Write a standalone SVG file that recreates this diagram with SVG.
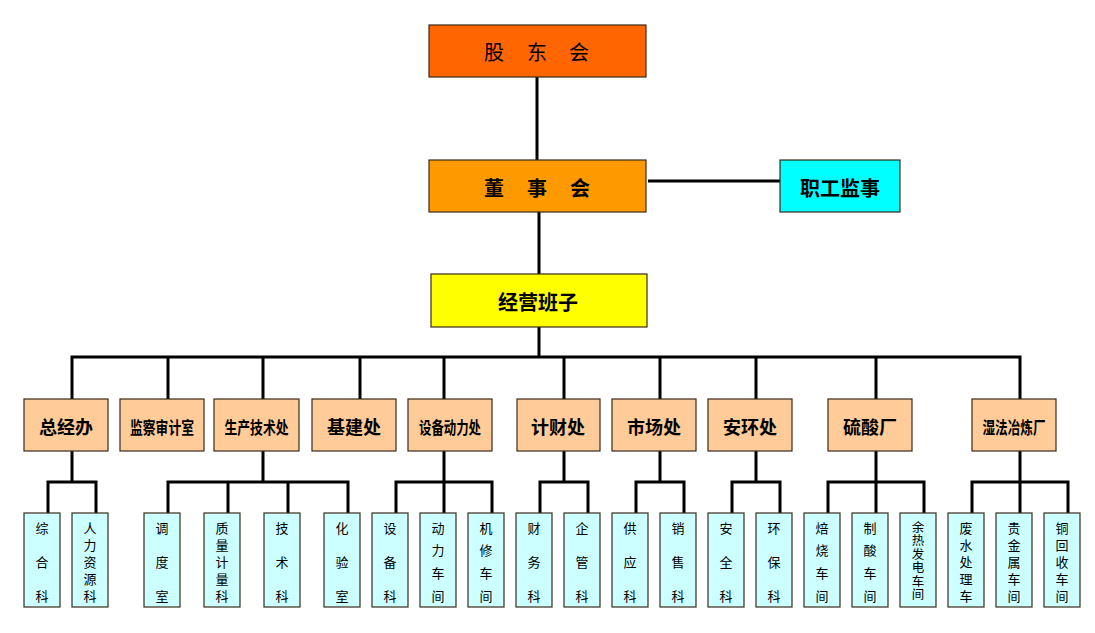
<svg xmlns="http://www.w3.org/2000/svg" width="1095" height="633" viewBox="0 0 1095 633">
<style>
.c{fill:none;stroke:#000;stroke-width:3;stroke-linejoin:miter;stroke-linecap:butt}
.b{stroke:#3a2a1a;stroke-width:1.2}
.t{font-family:"Noto Sans CJK SC","Noto Sans",sans-serif;fill:#000;text-anchor:middle;dominant-baseline:central}
.top{font-size:20px}
.hb{font-size:20px;font-weight:bold}
.mid{font-size:18px;font-weight:bold}
.mid5{font-size:17px;font-weight:bold}
.ch{font-size:13px}
.vt{font-family:"Noto Sans CJK SC","Noto Sans",sans-serif;fill:#000;font-size:12.5px;writing-mode:vertical-rl;text-anchor:start}
.m{fill:#FFCC99}
.k{fill:#CCFFFF}
</style>
<rect width="1095" height="633" fill="#fff"/>
<g id="connectors">
<path class="c" d="M537,77V160"/>
<path class="c" d="M648,181H780"/>
<path class="c" d="M539,212V274"/>
<path class="c" d="M539,327V357"/>
<path class="c" d="M72,399V357H1020V399M168,357V399M263,357V399M360,357V399M444,357V399M564,357V399M660,357V399M756,357V399M876,357V399"/>
<path class="c" d="M72,451V482M48,513V482H96V513"/>
<path class="c" d="M263,451V482M168,513V482H348V513M228,482V513M288,482V513"/>
<path class="c" d="M444,451V513M396,513V482H492V513"/>
<path class="c" d="M564,451V482M540,513V482H588V513"/>
<path class="c" d="M660,451V482M636,513V482H684V513"/>
<path class="c" d="M756,451V482M732,513V482H780V513"/>
<path class="c" d="M876,451V513M828,513V482H924V513"/>
<path class="c" d="M1020,451V513M972,513V482H1068V513"/>
</g>
<g id="gudonghui"><rect class="b" x="429" y="25" width="217" height="52" fill="#FF6600"/><text class="t top" x="494" y="51">股</text><text class="t top" x="537" y="51">东</text><text class="t top" x="579" y="51">会</text></g>
<g id="dongshihui"><rect class="b" x="429" y="160" width="217" height="52" fill="#FF9900"/><text class="t hb" x="494" y="187">董</text><text class="t hb" x="537" y="187">事</text><text class="t hb" x="580" y="187">会</text></g>
<g id="zhigongjianshi"><rect class="b" x="780" y="160" width="120" height="52" fill="#00FFFF"/><text class="t hb" x="840" y="187">职工监事</text></g>
<g id="jingyingbanzi"><rect class="b" x="431" y="274" width="216" height="53" fill="#FFFF00"/><text class="t hb" x="538" y="301">经营班子</text></g>
<g id="zongjingban"><rect class="b m" x="24" y="399" width="84" height="52"/><text class="t mid" x="66" y="426">总经办</text></g>
<g id="jiancha"><rect class="b m" x="120" y="399" width="84" height="52"/><text class="t mid5" x="162" y="426" textLength="64" lengthAdjust="spacingAndGlyphs">监察审计室</text></g>
<g id="shengchan"><rect class="b m" x="214" y="399" width="85" height="52"/><text class="t mid5" x="256.5" y="426" textLength="64" lengthAdjust="spacingAndGlyphs">生产技术处</text></g>
<g id="jijian"><rect class="b m" x="312" y="399" width="84" height="52"/><text class="t mid" x="354" y="426">基建处</text></g>
<g id="shebei"><rect class="b m" x="408" y="399" width="84" height="52"/><text class="t mid5" x="450" y="426" textLength="62" lengthAdjust="spacingAndGlyphs">设备动力处</text></g>
<g id="jicai"><rect class="b m" x="517" y="399" width="83" height="52"/><text class="t mid" x="558" y="426">计财处</text></g>
<g id="shichang"><rect class="b m" x="612" y="399" width="84" height="52"/><text class="t mid" x="654" y="426">市场处</text></g>
<g id="anhuan"><rect class="b m" x="708" y="399" width="84" height="52"/><text class="t mid" x="750" y="426">安环处</text></g>
<g id="liusuan"><rect class="b m" x="828" y="399" width="84" height="52"/><text class="t mid" x="870" y="426">硫酸厂</text></g>
<g id="shifa"><rect class="b m" x="972" y="399" width="84" height="52"/><text class="t mid5" x="1014" y="426" textLength="63" lengthAdjust="spacingAndGlyphs">湿法冶炼厂</text></g>
<g id="zonghe"><rect class="b k" x="24" y="513" width="36" height="94"/><text class="t ch" x="42" y="527">综</text><text class="t ch" x="42" y="561">合</text><text class="t ch" x="42" y="595">科</text></g>
<g id="renli"><rect class="b k" x="72" y="513" width="36" height="94"/><text class="t ch" x="90" y="527">人</text><text class="t ch" x="90" y="544">力</text><text class="t ch" x="90" y="561">资</text><text class="t ch" x="90" y="578">源</text><text class="t ch" x="90" y="595">科</text></g>
<g id="diaodu"><rect class="b k" x="144" y="513" width="36" height="94"/><text class="t ch" x="162" y="527">调</text><text class="t ch" x="162" y="561">度</text><text class="t ch" x="162" y="595">室</text></g>
<g id="zhiliang"><rect class="b k" x="204" y="513" width="36" height="94"/><text class="t ch" x="222" y="527">质</text><text class="t ch" x="222" y="544">量</text><text class="t ch" x="222" y="561">计</text><text class="t ch" x="222" y="578">量</text><text class="t ch" x="222" y="595">科</text></g>
<g id="jishu"><rect class="b k" x="264" y="513" width="36" height="94"/><text class="t ch" x="282" y="527">技</text><text class="t ch" x="282" y="561">术</text><text class="t ch" x="282" y="595">科</text></g>
<g id="huayan"><rect class="b k" x="324" y="513" width="36" height="94"/><text class="t ch" x="342" y="527">化</text><text class="t ch" x="342" y="561">验</text><text class="t ch" x="342" y="595">室</text></g>
<g id="shebeike"><rect class="b k" x="372" y="513" width="36" height="94"/><text class="t ch" x="390" y="527">设</text><text class="t ch" x="390" y="561">备</text><text class="t ch" x="390" y="595">科</text></g>
<g id="dongli"><rect class="b k" x="420" y="513" width="36" height="94"/><text class="t ch" x="438" y="527">动</text><text class="t ch" x="438" y="549.7">力</text><text class="t ch" x="438" y="572.3">车</text><text class="t ch" x="438" y="595">间</text></g>
<g id="jixiu"><rect class="b k" x="468" y="513" width="36" height="94"/><text class="t ch" x="486" y="527">机</text><text class="t ch" x="486" y="549.7">修</text><text class="t ch" x="486" y="572.3">车</text><text class="t ch" x="486" y="595">间</text></g>
<g id="caiwu"><rect class="b k" x="516" y="513" width="36" height="94"/><text class="t ch" x="534" y="527">财</text><text class="t ch" x="534" y="561">务</text><text class="t ch" x="534" y="595">科</text></g>
<g id="qiguan"><rect class="b k" x="564" y="513" width="36" height="94"/><text class="t ch" x="582" y="527">企</text><text class="t ch" x="582" y="561">管</text><text class="t ch" x="582" y="595">科</text></g>
<g id="gongying"><rect class="b k" x="612" y="513" width="36" height="94"/><text class="t ch" x="630" y="527">供</text><text class="t ch" x="630" y="561">应</text><text class="t ch" x="630" y="595">科</text></g>
<g id="xiaoshou"><rect class="b k" x="660" y="513" width="36" height="94"/><text class="t ch" x="678" y="527">销</text><text class="t ch" x="678" y="561">售</text><text class="t ch" x="678" y="595">科</text></g>
<g id="anquan"><rect class="b k" x="708" y="513" width="36" height="94"/><text class="t ch" x="726" y="527">安</text><text class="t ch" x="726" y="561">全</text><text class="t ch" x="726" y="595">科</text></g>
<g id="huanbao"><rect class="b k" x="756" y="513" width="36" height="94"/><text class="t ch" x="774" y="527">环</text><text class="t ch" x="774" y="561">保</text><text class="t ch" x="774" y="595">科</text></g>
<g id="beishao"><rect class="b k" x="804" y="513" width="36" height="94"/><text class="t ch" x="822" y="527">焙</text><text class="t ch" x="822" y="549.7">烧</text><text class="t ch" x="822" y="572.3">车</text><text class="t ch" x="822" y="595">间</text></g>
<g id="zhisuan"><rect class="b k" x="852" y="513" width="36" height="94"/><text class="t ch" x="870" y="527">制</text><text class="t ch" x="870" y="549.7">酸</text><text class="t ch" x="870" y="572.3">车</text><text class="t ch" x="870" y="595">间</text></g>
<g id="yure"><rect class="b k" x="900" y="513" width="36" height="94"/><text class="vt" x="918" y="520.5" letter-spacing="1.1">余热发电车间</text></g>
<g id="feishui"><rect class="b k" x="948" y="513" width="36" height="94"/><text class="t ch" x="966" y="527">废</text><text class="t ch" x="966" y="544">水</text><text class="t ch" x="966" y="561">处</text><text class="t ch" x="966" y="578">理</text><text class="t ch" x="966" y="595">车</text></g>
<g id="guijinshu"><rect class="b k" x="996" y="513" width="36" height="94"/><text class="t ch" x="1014" y="527">贵</text><text class="t ch" x="1014" y="544">金</text><text class="t ch" x="1014" y="561">属</text><text class="t ch" x="1014" y="578">车</text><text class="t ch" x="1014" y="595">间</text></g>
<g id="tonghuishou"><rect class="b k" x="1044" y="513" width="36" height="94"/><text class="t ch" x="1062" y="527">铜</text><text class="t ch" x="1062" y="544">回</text><text class="t ch" x="1062" y="561">收</text><text class="t ch" x="1062" y="578">车</text><text class="t ch" x="1062" y="595">间</text></g>
</svg>
